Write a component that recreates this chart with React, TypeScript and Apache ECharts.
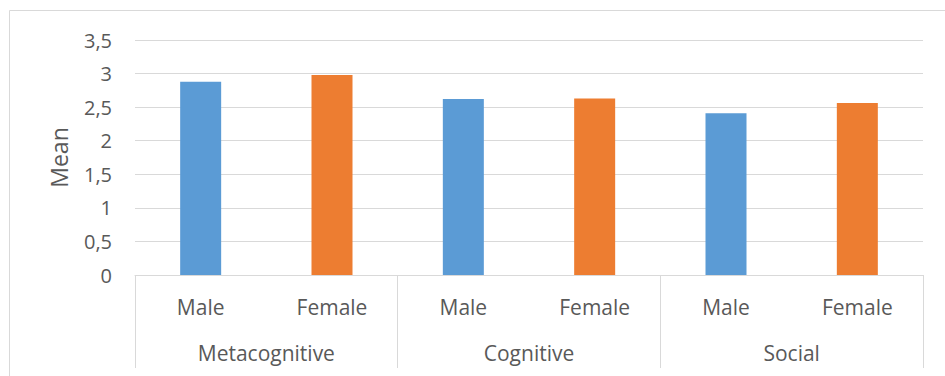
import React, { useEffect, useRef } from "react";
import * as echarts from "echarts";

const subCategories = ["Male", "Female", "Male", "Female", "Male", "Female"];
const groups = ["Metacognitive", "Cognitive", "Social"];
const maleValues = [2.88, null, 2.62, null, 2.41, null];
const femaleValues = [null, 2.98, null, 2.63, null, 2.56];
const yTicks = { min: 0, max: 3.5, interval: 0.5 };

const FONT = "'Open Sans', 'Noto Sans', sans-serif";
const TEXT = "#595959";
const GRID = "#d9d9d9";

export default function App() {
  const ref = useRef<HTMLDivElement>(null);
  useEffect(() => {
    if (!ref.current) return;
    const chart = echarts.init(ref.current, undefined, { renderer: "svg" });
    chart.setOption({
      animation: false,
      backgroundColor: "#ffffff",
      textStyle: { fontFamily: FONT },
      graphic: [
        {
          type: "rect",
          shape: { x: 9.5, y: 10.5, width: 1000, height: 500 },
          style: { fill: "none", stroke: GRID, lineWidth: 1 },
          silent: true,
        },
      ],
      grid: { left: 135, right: 22, top: 40, bottom: 101, containLabel: false },
      xAxis: [
        {
          type: "category",
          data: subCategories,
          position: "bottom",
          axisLine: { show: true, lineStyle: { color: GRID, width: 1 } },
          axisTick: { show: false },
          axisLabel: { color: TEXT, fontSize: 21, margin: 21, fontFamily: FONT },
        },
        {
          type: "category",
          data: groups,
          position: "bottom",
          axisLine: { show: false },
          axisTick: { show: true, interval: 0, length: 93, lineStyle: { color: GRID, width: 1 } },
          axisLabel: { color: TEXT, fontSize: 21, margin: 67, fontFamily: FONT },
        },
      ],
      yAxis: {
        type: "value",
        min: yTicks.min,
        max: yTicks.max,
        interval: yTicks.interval,
        name: "Mean",
        nameLocation: "middle",
        nameGap: 65,
        nameTextStyle: { color: TEXT, fontSize: 23, fontFamily: FONT },
        axisLine: { show: false },
        axisTick: { show: false },
        axisLabel: {
          color: TEXT,
          fontSize: 20,
          margin: 23,
          fontFamily: FONT,
          formatter: (v: number) => String(v).replace(".", ","),
        },
        splitLine: { lineStyle: { color: GRID, width: 1 } },
      },
      series: [
        {
          name: "Male",
          type: "bar",
          stack: "g",
          xAxisIndex: 0,
          data: maleValues,
          barWidth: 41,
          itemStyle: { color: "#5B9BD5" },
        },
        {
          name: "Female",
          type: "bar",
          stack: "g",
          xAxisIndex: 0,
          data: femaleValues,
          barWidth: 41,
          itemStyle: { color: "#ED7D31" },
        },
      ],
    });
    return () => chart.dispose();
  }, []);
  return (
    <div
      ref={ref}
      style={{ position: "absolute", left: 0, top: 0, width: 945, height: 376 }}
    />
  );
}
